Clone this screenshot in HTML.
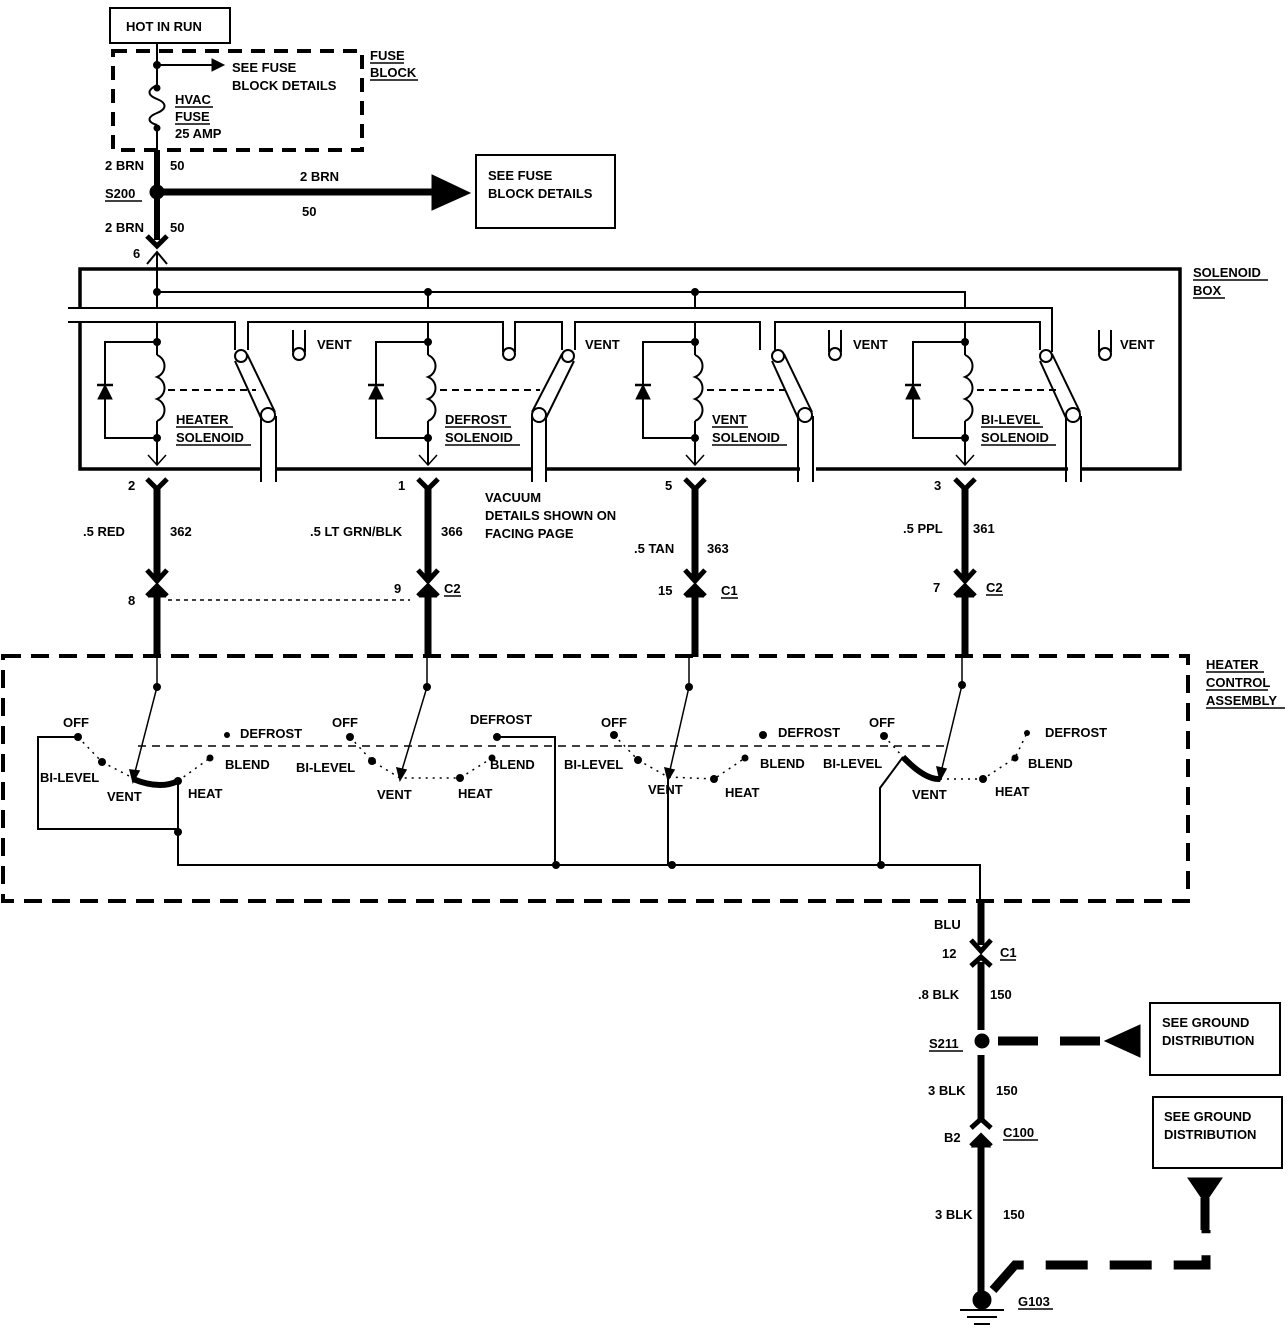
<!DOCTYPE html>
<html><head><meta charset="utf-8"><style>
body{margin:0;background:#fff}
svg text{font-family:"Liberation Sans",sans-serif;font-weight:bold;font-size:13px;fill:#000}
</style></head><body>
<svg width="1288" height="1328" viewBox="0 0 1288 1328" xmlns="http://www.w3.org/2000/svg" stroke="#000" fill="none">
<!-- top -->
<rect x="110" y="8" width="120" height="35" stroke-width="2"/>
<text x="126" y="31" stroke="none">HOT IN RUN</text>
<rect x="113" y="51" width="249" height="99" stroke-width="4" stroke-dasharray="14,9"/>
<text x="370" y="60" stroke="none">FUSE</text><line x1="370" y1="63" x2="404" y2="63" stroke-width="1.5"/>
<text x="370" y="77" stroke="none">BLOCK</text><line x1="370" y1="80" x2="418" y2="80" stroke-width="1.5"/>
<line x1="157" y1="43" x2="157" y2="85" stroke-width="2"/>
<circle cx="157" cy="65" r="3.5" fill="#000"/>
<line x1="157" y1="65" x2="212" y2="65" stroke-width="2"/>
<polygon points="212,59 224,65 212,71" fill="#000"/>
<text x="232" y="72" stroke="none">SEE FUSE</text>
<text x="232" y="90" stroke="none">BLOCK DETAILS</text>
<path d="M157,85 c-10,5 -10,10 0,14 c10,4 10,10 0,14 c-10,4 -10,9 0,12" stroke-width="2"/>
<circle cx="157" cy="88" r="3" fill="#000"/><circle cx="157" cy="128" r="3" fill="#000"/>
<text x="175" y="104" stroke="none">HVAC</text><line x1="175" y1="107" x2="213" y2="107" stroke-width="1.5"/>
<text x="175" y="121" stroke="none">FUSE</text><line x1="175" y1="124" x2="210" y2="124" stroke-width="1.5"/>
<text x="175" y="138" stroke="none">25 AMP</text>
<line x1="157" y1="128" x2="157" y2="150" stroke-width="2"/>
<line x1="157" y1="150" x2="157" y2="240" stroke-width="6"/>
<text x="105" y="170" stroke="none">2 BRN</text><text x="170" y="170" stroke="none">50</text>
<text x="105" y="198" stroke="none">S200</text><line x1="105" y1="201" x2="142" y2="201" stroke-width="1.5"/>
<circle cx="157" cy="192" r="7" fill="#000"/>
<line x1="157" y1="192" x2="434" y2="192" stroke-width="7"/>
<polygon points="432,175 470,193 432,210" fill="#000"/>
<text x="300" y="181" stroke="none">2 BRN</text><text x="302" y="216" stroke="none">50</text>
<rect x="476" y="155" width="139" height="73" stroke-width="2"/>
<text x="488" y="180" stroke="none">SEE FUSE</text><text x="488" y="198" stroke="none">BLOCK DETAILS</text>
<text x="105" y="232" stroke="none">2 BRN</text><text x="170" y="232" stroke="none">50</text>
<polyline points="147,236 157,246 167,236" stroke-width="5"/>
<text x="133" y="258" stroke="none">6</text>
<!-- solenoid box -->
<polyline points="80,308 80,269 1180,269 1180,469 1082,469" stroke-width="3.5"/>
<polyline points="80,322 80,469 260,469" stroke-width="3.5"/>
<line x1="277" y1="469" x2="532" y2="469" stroke-width="3.5"/>
<line x1="546" y1="469" x2="800" y2="469" stroke-width="3.5"/>
<line x1="816" y1="469" x2="1068" y2="469" stroke-width="3.5"/>
<text x="1193" y="277" stroke="none">SOLENOID</text><line x1="1193" y1="280" x2="1268" y2="280" stroke-width="1.5"/>
<text x="1193" y="295" stroke="none">BOX</text><line x1="1193" y1="298" x2="1225" y2="298" stroke-width="1.5"/>
<line x1="157" y1="308" x2="157" y2="252" stroke-width="2"/>
<polyline points="147,264 157,252 167,264" stroke-width="2"/>
<polyline points="157,292 965,292 965,308" stroke-width="2"/>
<circle cx="157" cy="292" r="3.5" fill="#000"/><circle cx="428" cy="292" r="3.5" fill="#000"/><circle cx="695" cy="292" r="3.5" fill="#000"/>
<line x1="428" y1="292" x2="428" y2="308" stroke-width="2"/><line x1="695" y1="292" x2="695" y2="308" stroke-width="2"/>
<polyline points="68,308 1052,308 1052,352" stroke-width="2"/>
<polyline points="68,322 235,322 235,350" stroke-width="2"/>
<polyline points="248,350 248,322 503,322 503,352" stroke-width="2"/>
<polyline points="515,352 515,322 562,322 562,350" stroke-width="2"/>
<polyline points="575,350 575,322 760,322 760,350" stroke-width="2"/>
<polyline points="775,350 775,322 1040,322 1040,350" stroke-width="2"/>
<!-- solenoid units -->
<g id="sol">
<line x1="157" y1="322" x2="157" y2="355" stroke-width="2"/>
<path d="M157,355 c10,4 10,18 0,22 c10,4 10,18 0,22 c10,4 10,18 0,22" stroke-width="2"/>
<line x1="157" y1="421" x2="157" y2="465" stroke-width="2"/>
<polyline points="148,455 157,465 166,455" stroke-width="1.5"/>
<circle cx="157" cy="342" r="3.5" fill="#000"/><circle cx="157" cy="438" r="3.5" fill="#000"/>
<polyline points="157,342 105,342 105,438 157,438" stroke-width="2"/>
<polygon points="98,399 112,399 105,385" fill="#000"/><line x1="97" y1="385" x2="113" y2="385" stroke-width="2.5"/>
</g>
<use href="#sol" x="271"/><use href="#sol" x="538"/><use href="#sol" x="808"/>
<line x1="168" y1="390" x2="256" y2="390" stroke-width="2" stroke-dasharray="7,5"/>
<line x1="440" y1="390" x2="540" y2="390" stroke-width="2" stroke-dasharray="7,5"/>
<line x1="707" y1="390" x2="787" y2="390" stroke-width="2" stroke-dasharray="7,5"/>
<line x1="977" y1="390" x2="1057" y2="390" stroke-width="2" stroke-dasharray="7,5"/>
<!-- switches: left-lean (heater style) -->
<g id="swA" stroke-width="2">
<circle cx="241" cy="356" r="6"/><circle cx="268" cy="415" r="7"/>
<line x1="235" y1="361" x2="261" y2="418"/><line x1="247" y1="354" x2="275" y2="412"/>
<polyline points="261,418 261,482"/><polyline points="276,416 276,482"/>
</g>
<use href="#swA" x="537"/><use href="#swA" x="805"/>
<g stroke-width="2">
<circle cx="568" cy="356" r="6"/><circle cx="539" cy="415" r="7"/>
<line x1="574" y1="361" x2="546" y2="418"/><line x1="562" y1="354" x2="532" y2="412"/>
<line x1="532" y1="416" x2="532" y2="482"/><line x1="546" y1="418" x2="546" y2="482"/>
</g>
<g id="vu" stroke-width="2"><polyline points="293,330 293,352"/><polyline points="305,330 305,352"/><circle cx="299" cy="354" r="6"/></g>
<use href="#vu" x="536"/><use href="#vu" x="806"/><use href="#vu" x="210"/>
<text x="317" y="349" stroke="none">VENT</text><text x="585" y="349" stroke="none">VENT</text>
<text x="853" y="349" stroke="none">VENT</text><text x="1120" y="349" stroke="none">VENT</text>
<text x="176" y="424" stroke="none">HEATER</text><line x1="176" y1="427" x2="233" y2="427" stroke-width="1.5"/>
<text x="176" y="442" stroke="none">SOLENOID</text><line x1="176" y1="445" x2="251" y2="445" stroke-width="1.5"/>
<text x="445" y="424" stroke="none">DEFROST</text><line x1="445" y1="427" x2="511" y2="427" stroke-width="1.5"/>
<text x="445" y="442" stroke="none">SOLENOID</text><line x1="445" y1="445" x2="520" y2="445" stroke-width="1.5"/>
<text x="712" y="424" stroke="none">VENT</text><line x1="712" y1="427" x2="748" y2="427" stroke-width="1.5"/>
<text x="712" y="442" stroke="none">SOLENOID</text><line x1="712" y1="445" x2="787" y2="445" stroke-width="1.5"/>
<text x="981" y="424" stroke="none">BI-LEVEL</text><line x1="981" y1="427" x2="1043" y2="427" stroke-width="1.5"/>
<text x="981" y="442" stroke="none">SOLENOID</text><line x1="981" y1="445" x2="1056" y2="445" stroke-width="1.5"/>
<!-- wires down -->
<g id="wr">
<polyline points="147,479 157,489 167,479" stroke-width="5"/>
<line x1="157" y1="486" x2="157" y2="578" stroke-width="7"/>
<polyline points="147,570 157,581 167,570" stroke-width="5"/>
<polyline points="147,596 157,586 167,596" stroke-width="5"/>
<polygon points="149,597 157,589 165,597" fill="#000"/>
<line x1="157" y1="594" x2="157" y2="657" stroke-width="7"/>
</g>
<use href="#wr" x="271"/><use href="#wr" x="538"/><use href="#wr" x="808"/>
<line x1="168" y1="600" x2="410" y2="600" stroke-width="1.5" stroke-dasharray="4,4"/>
<text x="128" y="490" stroke="none">2</text><text x="398" y="490" stroke="none">1</text><text x="665" y="490" stroke="none">5</text><text x="934" y="490" stroke="none">3</text>
<text x="83" y="536" stroke="none">.5 RED</text><text x="170" y="536" stroke="none">362</text>
<text x="310" y="536" stroke="none">.5 LT GRN/BLK</text><text x="441" y="536" stroke="none">366</text>
<text x="634" y="553" stroke="none">.5 TAN</text><text x="707" y="553" stroke="none">363</text>
<text x="903" y="533" stroke="none">.5 PPL</text><text x="973" y="533" stroke="none">361</text>
<text x="485" y="502" stroke="none">VACUUM</text><text x="485" y="520" stroke="none">DETAILS SHOWN ON</text><text x="485" y="538" stroke="none">FACING PAGE</text>
<text x="128" y="605" stroke="none">8</text><text x="394" y="593" stroke="none">9</text><text x="658" y="595" stroke="none">15</text><text x="933" y="592" stroke="none">7</text>
<text x="444" y="593" stroke="none">C2</text><line x1="444" y1="596" x2="461" y2="596" stroke-width="1.5"/>
<text x="721" y="595" stroke="none">C1</text><line x1="721" y1="598" x2="738" y2="598" stroke-width="1.5"/>
<text x="986" y="592" stroke="none">C2</text><line x1="986" y1="595" x2="1003" y2="595" stroke-width="1.5"/>
<!-- heater control assembly -->
<rect x="3" y="656" width="1185" height="245" stroke-width="4" stroke-dasharray="18,10"/>
<text x="1206" y="669" stroke="none">HEATER</text><line x1="1206" y1="672" x2="1264" y2="672" stroke-width="1.5"/>
<text x="1206" y="687" stroke="none">CONTROL</text><line x1="1206" y1="690" x2="1268" y2="690" stroke-width="1.5"/>
<text x="1206" y="705" stroke="none">ASSEMBLY</text><line x1="1206" y1="708" x2="1285" y2="708" stroke-width="1.5"/>
<line x1="138" y1="746" x2="945" y2="746" stroke-width="1.5" stroke-dasharray="8,6"/>
<g fill="#000" stroke="none">
<circle cx="157" cy="687" r="4"/><circle cx="427" cy="687" r="4"/><circle cx="689" cy="687" r="4"/><circle cx="962" cy="685" r="4"/>
<circle cx="78" cy="737" r="4"/><circle cx="102" cy="762" r="4"/><circle cx="178" cy="781" r="4"/><circle cx="210" cy="758" r="3.5"/><circle cx="227" cy="735" r="3"/>
<circle cx="350" cy="737" r="4"/><circle cx="372" cy="761" r="4"/><circle cx="460" cy="778" r="4"/><circle cx="492" cy="758" r="3.5"/><circle cx="497" cy="737" r="4"/>
<circle cx="614" cy="735" r="4"/><circle cx="638" cy="760" r="4"/><circle cx="714" cy="779" r="4"/><circle cx="745" cy="758" r="3.5"/><circle cx="763" cy="735" r="4"/>
<circle cx="884" cy="736" r="4"/><circle cx="983" cy="779" r="4"/><circle cx="1015" cy="758" r="3.5"/><circle cx="1027" cy="733" r="3"/>
<circle cx="178" cy="832" r="4"/><circle cx="556" cy="865" r="4"/><circle cx="672" cy="865" r="4"/><circle cx="881" cy="865" r="4"/>
</g>
<g stroke-width="1.5" stroke-dasharray="2,5">
<polyline points="78,737 102,762 133,778"/><polyline points="178,781 210,758"/>
<polyline points="350,737 372,761 400,778 460,778 492,758"/>
<polyline points="614,735 638,760 668,777 714,779 745,758"/>
<polyline points="884,736 903,757"/><polyline points="940,779 983,779 1015,758 1027,733"/>
</g>
<g stroke-width="1.5">
<polyline points="157,656 157,687 135,772"/><polygon points="130,770 139,771 133,782" fill="#000"/>
<polyline points="427,656 427,687 402,770"/><polygon points="397,768 406,770 400,780" fill="#000"/>
<polyline points="689,656 689,687 670,770"/><polygon points="665,768 674,770 668,780" fill="#000"/>
<polyline points="962,656 962,685 942,768"/><polygon points="937,767 946,769 940,780" fill="#000"/>
</g>
<path d="M133,779 Q160,790 178,781" stroke-width="6"/>
<path d="M903,757 Q925,780 940,779" stroke-width="6"/>
<g stroke-width="2">
<polyline points="78,737 38,737 38,829 178,829"/>
<polyline points="178,781 178,865 980,865 980,902"/>
<polyline points="497,737 555,737 555,865"/>
<line x1="668" y1="779" x2="668" y2="865"/>
<polyline points="903,757 880,788 880,865"/>
</g>
<g stroke="none">
<text x="63" y="727">OFF</text><text x="40" y="782">BI-LEVEL</text><text x="107" y="801">VENT</text><text x="188" y="798">HEAT</text><text x="225" y="769">BLEND</text><text x="240" y="738">DEFROST</text>
<text x="332" y="727">OFF</text><text x="296" y="772">BI-LEVEL</text><text x="377" y="799">VENT</text><text x="458" y="798">HEAT</text><text x="490" y="769">BLEND</text><text x="470" y="724">DEFROST</text>
<text x="601" y="727">OFF</text><text x="564" y="769">BI-LEVEL</text><text x="648" y="794">VENT</text><text x="725" y="797">HEAT</text><text x="760" y="768">BLEND</text><text x="778" y="737">DEFROST</text>
<text x="869" y="727">OFF</text><text x="823" y="768">BI-LEVEL</text><text x="912" y="799">VENT</text><text x="995" y="796">HEAT</text><text x="1028" y="768">BLEND</text><text x="1045" y="737">DEFROST</text>
</g>
<!-- ground section -->
<line x1="981" y1="900" x2="981" y2="945" stroke-width="7"/>
<polyline points="971,940 981,951 991,940" stroke-width="5"/>
<polyline points="971,966 981,957 991,966" stroke-width="5"/>
<line x1="981" y1="962" x2="981" y2="1030" stroke-width="7"/>
<circle cx="982" cy="1041" r="7" fill="#000"/>
<line x1="981" y1="1055" x2="981" y2="1122" stroke-width="7"/>
<polyline points="971,1128 981,1119 991,1128" stroke-width="5"/>
<polyline points="971,1146 981,1136 991,1146" stroke-width="5"/>
<polygon points="972,1147 981,1139 990,1147" fill="#000"/>
<line x1="981" y1="1142" x2="981" y2="1296" stroke-width="7"/>
<circle cx="982" cy="1300" r="9" fill="#000"/>
<line x1="960" y1="1310" x2="1004" y2="1310" stroke-width="2"/><line x1="967" y1="1317" x2="997" y2="1317" stroke-width="2"/><line x1="974" y1="1324" x2="990" y2="1324" stroke-width="2"/>
<line x1="998" y1="1041" x2="1105" y2="1041" stroke-width="9" stroke-dasharray="40,22"/>
<polygon points="1105,1041 1140,1025 1140,1057" fill="#000"/>
<polyline points="993,1290 1015,1265 1206,1265 1206,1230" stroke-width="9" stroke-dasharray="42,22"/>
<polygon points="1188,1178 1222,1178 1205,1203" fill="#000"/>
<line x1="1205" y1="1198" x2="1205" y2="1230" stroke-width="9"/>
<rect x="1150" y="1003" width="130" height="72" stroke-width="2"/>
<rect x="1153" y="1097" width="129" height="71" stroke-width="2"/>
<g stroke="none">
<text x="1162" y="1027">SEE GROUND</text><text x="1162" y="1045">DISTRIBUTION</text>
<text x="1164" y="1121">SEE GROUND</text><text x="1164" y="1139">DISTRIBUTION</text>
<text x="934" y="929">BLU</text><text x="942" y="958">12</text><text x="1000" y="957">C1</text>
<text x="918" y="999">.8 BLK</text><text x="990" y="999">150</text>
<text x="929" y="1048">S211</text>
<text x="928" y="1095">3 BLK</text><text x="996" y="1095">150</text>
<text x="944" y="1142">B2</text><text x="1003" y="1137">C100</text>
<text x="935" y="1219">3 BLK</text><text x="1003" y="1219">150</text>
<text x="1018" y="1306">G103</text>
</g>
<line x1="1000" y1="960" x2="1016" y2="960" stroke-width="1.5"/>
<line x1="929" y1="1051" x2="963" y2="1051" stroke-width="1.5"/>
<line x1="1003" y1="1140" x2="1038" y2="1140" stroke-width="1.5"/>
<line x1="1018" y1="1309" x2="1053" y2="1309" stroke-width="1.5"/>
</svg>
</body></html>
